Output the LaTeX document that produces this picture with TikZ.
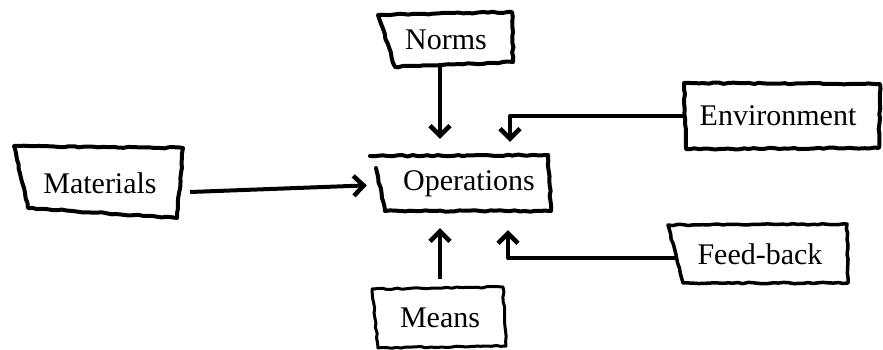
\documentclass[tikz,border=0pt]{standalone}
\usepackage{fontspec}
\setmainfont{Liberation Serif}
\usetikzlibrary{arrows.meta,calc,decorations.pathmorphing}
\begin{document}
\begin{tikzpicture}[x=1pt,y=-1pt,
  label/.style={font=\fontsize{30}{34}\selectfont, inner sep=0pt, draw=none},
  sketch/.style={line width=4pt, line join=round, line cap=round,
    decorate, decoration={random steps, segment length=5pt, amplitude=0.7pt}},
  arr/.style={line width=4pt, line join=round,
    -{Straight Barb[length=10pt,width=20pt,line width=4.5pt]}}]
\useasboundingbox (0,0) rectangle (883,350);
\pgfmathsetseed{7}

% text blocks
\node[label, minimum width=130pt, minimum height=52pt] (norms) at (446,40) {Norms};
\node[label, minimum width=172pt, minimum height=56pt] (ops) at (463,184) {\hspace*{12pt}Operations};
\node[label, minimum width=195pt, minimum height=65pt] (env) at (782,116) {\hspace*{-8pt}Environment};
\node[label, minimum width=160pt, minimum height=66pt] (mat) at (100,183) {Materials};
\node[label, minimum width=132pt, minimum height=58pt] (means) at (440,318) {Means};
\node[label, minimum width=175pt, minimum height=58pt] (feed) at (760,254) {Feed-back};

% hand-drawn frames
\draw[sketch] (378,15) -- (512,12) -- (513,62) -- (395,67) -- cycle;
\draw[sketch] (376,168) -- (385,211) -- (551,211) -- (548,155) -- (370,156);
\draw[sketch] (684,83) -- (880,84) -- (879,148) -- (686,149) -- cycle;
\draw[sketch] (14,146) -- (183,148) -- (177,218) -- (28,208) -- cycle;
\draw[sketch, line width=3pt] (372,289) -- (503,287) -- (506,346) -- (378,348) -- cycle;
\draw[sketch, line width=3.5pt] (668,225) -- (847,224) -- (848,283) -- (683,283) -- cycle;

% connectors
\draw[arr, shorten >=17pt] ([xshift=-6pt]norms.south) -- ([xshift=-6pt]norms.south |- ops.north);
\draw[arr, shorten >=14pt] (env.west) -| ([xshift=47pt]ops.north);
\draw[arr, shorten >=10pt] ($(mat.east)+(10,9)$) -- ($(ops.west)+(0,1)$);
\draw[arr, shorten <=10pt, shorten >=16pt] (means.north) -- (means.north |- ops.south);
\draw[arr, shorten >=18pt] ($(feed.west)+(5,4)$) -| ([xshift=45pt]ops.south);
\end{tikzpicture}
\end{document}
